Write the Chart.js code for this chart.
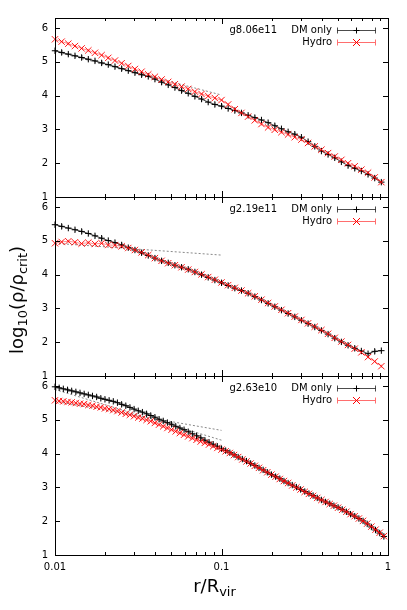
<!DOCTYPE html>
<html>
<head>
<meta charset="utf-8">
<script src="https://cdn.jsdelivr.net/npm/chart.js@4.4.1/dist/chart.umd.min.js"></script>
<style>
  html, body { margin: 0; padding: 0; background: #fff; }
  #wrap { position: relative; width: 407px; height: 610px; overflow: hidden; font-family: "DejaVu Sans", sans-serif; }
  canvas { position: absolute; left: 0; top: 0; }
  .lab { position: absolute; font-size: 18px; line-height: 18px; white-space: nowrap; color: #000; }
  .lab sub { font-size: 0.72em; line-height: 0; vertical-align: -0.3em; }
  #ylab { left: 17px; top: 300px; transform: translate(-50%, -50%) rotate(-90deg); }
  #xlab { left: 214.5px; top: 577px; transform: translateX(-50%); }
</style>
</head>
<body>
<div id="wrap">
  <canvas id="p3" width="407" height="610"></canvas>
  <canvas id="p2" width="407" height="610"></canvas>
  <canvas id="p1" width="407" height="610"></canvas>
  <div class="lab" id="ylab">log<sub>10</sub>(ρ/ρ<sub>crit</sub>)</div>
  <div class="lab" id="xlab">r/R<sub>vir</sub></div>
</div>
<script>
// radial bins (r / R_vir) for the two upper halos
const radii = [0.01, 0.01096, 0.01202, 0.01318, 0.01445, 0.01585, 0.01738, 0.01905, 0.02089, 0.02291,
  0.02512, 0.02754, 0.03020, 0.03311, 0.03631, 0.03981, 0.04365, 0.04786, 0.05248, 0.05754,
  0.06310, 0.06918, 0.07586, 0.08318, 0.09120, 0.1000, 0.1096, 0.1202, 0.1318, 0.1445,
  0.1585, 0.1738, 0.1905, 0.2089, 0.2291, 0.2512, 0.2754, 0.3020, 0.3311, 0.3631,
  0.3981, 0.4365, 0.4786, 0.5248, 0.5754, 0.6310, 0.6918, 0.7586, 0.8318, 0.9120];

// finer bins for the smallest halo
const radiiFine = [0.01, 0.01059, 0.01122, 0.01189, 0.01259, 0.01334, 0.01413, 0.01496, 0.01585, 0.01679,
  0.01778, 0.01884, 0.01995, 0.02113, 0.02239, 0.02371, 0.02512, 0.02661, 0.02818, 0.02985,
  0.03162, 0.03350, 0.03548, 0.03758, 0.03981, 0.04217, 0.04467, 0.04732, 0.05012, 0.05309,
  0.05623, 0.05957, 0.06310, 0.06683, 0.07079, 0.07499, 0.07943, 0.08414, 0.08913, 0.09441,
  0.1000, 0.1059, 0.1122, 0.1189, 0.1259, 0.1334, 0.1413, 0.1496, 0.1585, 0.1679,
  0.1778, 0.1884, 0.1995, 0.2113, 0.2239, 0.2371, 0.2512, 0.2661, 0.2818, 0.2985,
  0.3162, 0.3350, 0.3548, 0.3758, 0.3981, 0.4217, 0.4467, 0.4732, 0.5012, 0.5309,
  0.5623, 0.5957, 0.6310, 0.6683, 0.7079, 0.7499, 0.7943, 0.8414, 0.8913, 0.9441];

// log10(rho/rho_crit)
const dm806 = [5.33, 5.28, 5.23, 5.18, 5.13, 5.08, 5.03, 4.97, 4.92, 4.86,
  4.80, 4.74, 4.68, 4.62, 4.57, 4.49, 4.40, 4.32, 4.24, 4.15,
  4.07, 3.98, 3.90, 3.81, 3.74, 3.69, 3.62, 3.56, 3.49, 3.42,
  3.35, 3.28, 3.20, 3.11, 3.02, 2.93, 2.86, 2.77, 2.64, 2.50,
  2.36, 2.26, 2.16, 2.04, 1.93, 1.85, 1.77, 1.67, 1.56, 1.44];
const hydro806 = [5.67, 5.60, 5.54, 5.47, 5.40, 5.34, 5.27, 5.20, 5.12, 5.04,
  4.96, 4.88, 4.79, 4.71, 4.63, 4.56, 4.48, 4.41, 4.34, 4.27,
  4.20, 4.12, 4.05, 3.99, 3.93, 3.87, 3.74, 3.60, 3.49, 3.38,
  3.27, 3.16, 3.06, 2.99, 2.92, 2.85, 2.77, 2.70, 2.60, 2.50,
  2.40, 2.30, 2.20, 2.10, 2.00, 1.91, 1.81, 1.72, 1.58, 1.44];

const dm219 = [5.48, 5.43, 5.38, 5.33, 5.28, 5.22, 5.15, 5.08, 5.01, 4.95,
  4.88, 4.80, 4.73, 4.65, 4.57, 4.49, 4.41, 4.35, 4.28, 4.22,
  4.16, 4.08, 4.00, 3.92, 3.84, 3.76, 3.68, 3.60, 3.53, 3.45,
  3.35, 3.25, 3.15, 3.05, 2.95, 2.85, 2.75, 2.65, 2.55, 2.45,
  2.35, 2.24, 2.12, 2.01, 1.91, 1.82, 1.74, 1.66, 1.73, 1.75];
const hydro219 = [4.93, 4.97, 4.99, 4.96, 4.92, 4.95, 4.91, 4.93, 4.88, 4.87,
  4.84, 4.79, 4.73, 4.66, 4.58, 4.49, 4.41, 4.34, 4.28, 4.22,
  4.15, 4.08, 4.01, 3.93, 3.85, 3.77, 3.69, 3.61, 3.53, 3.45,
  3.36, 3.26, 3.16, 3.06, 2.96, 2.86, 2.76, 2.66, 2.56, 2.46,
  2.36, 2.25, 2.13, 2.02, 1.92, 1.81, 1.70, 1.56, 1.43, 1.29];

const dm263 = [5.98, 5.95, 5.92, 5.89, 5.86, 5.83, 5.80, 5.77, 5.74, 5.71,
  5.68, 5.64, 5.61, 5.58, 5.55, 5.51, 5.46, 5.42, 5.37, 5.32,
  5.27, 5.23, 5.18, 5.13, 5.08, 5.02, 4.97, 4.92, 4.87, 4.81,
  4.76, 4.71, 4.65, 4.59, 4.53, 4.47, 4.40, 4.34, 4.28, 4.22,
  4.15, 4.09, 4.03, 3.97, 3.90, 3.84, 3.78, 3.71, 3.65, 3.58,
  3.52, 3.45, 3.38, 3.32, 3.26, 3.19, 3.13, 3.07, 3.01, 2.94,
  2.88, 2.82, 2.76, 2.69, 2.63, 2.57, 2.52, 2.46, 2.41, 2.35,
  2.28, 2.21, 2.15, 2.08, 2.01, 1.92, 1.83, 1.74, 1.65, 1.55];
const hydro263 = [5.58, 5.56, 5.55, 5.53, 5.52, 5.50, 5.48, 5.47, 5.44, 5.42,
  5.39, 5.37, 5.34, 5.32, 5.29, 5.26, 5.22, 5.18, 5.15, 5.11,
  5.07, 5.04, 5.00, 4.96, 4.91, 4.86, 4.81, 4.76, 4.71, 4.66,
  4.61, 4.56, 4.51, 4.46, 4.41, 4.36, 4.32, 4.27, 4.22, 4.17,
  4.12, 4.07, 4.02, 3.96, 3.90, 3.83, 3.77, 3.71, 3.64, 3.58,
  3.51, 3.45, 3.38, 3.32, 3.25, 3.19, 3.13, 3.06, 3.00, 2.94,
  2.87, 2.81, 2.75, 2.69, 2.63, 2.57, 2.51, 2.46, 2.40, 2.34,
  2.28, 2.21, 2.15, 2.08, 2.01, 1.93, 1.84, 1.75, 1.66, 1.56];

// typical error bar half-height per panel [DM, Hydro]
const err806 = [0.07, 0.05];
const err219 = [0.07, 0.05];
const err263 = [0.06, 0.05];

// inner power-law fits (dotted), evaluated at fitR
const fitR = [0.01, 0.1];
const fit806 = [5.31, 4.02];
const fit219 = [4.93, 4.58];
const fit263a = [5.55, 4.69];
const fit263b = [5.90, 4.40];

const panelNames = ['g8.06e11', 'g2.19e11', 'g2.63e10'];
const seriesNames = ['DM only', 'Hydro'];

const xTickValues = [0.01, 0.1, 1];
const xTickLabels = ['0.01', '0.1', '1'];
const xMinorTicks = [0.02, 0.03, 0.04, 0.05, 0.06, 0.07, 0.08, 0.09, 0.2, 0.3, 0.4, 0.5, 0.6, 0.7, 0.8, 0.9];
const yTickValues = [1, 2, 3, 4, 5, 6];

Chart.defaults.font.family = '"DejaVu Sans", sans-serif';
Chart.defaults.font.size = 10;
Chart.defaults.color = '#000';

const DM_LINE = 'rgba(0,0,0,0.75)';
const DM_ERR = 'rgba(0,0,0,0.28)';
const HY_LINE = 'rgba(255,70,70,0.6)';
const HY_MARK = 'rgba(255,0,0,0.9)';
const HY_ERR = 'rgba(255,0,0,0.3)';

function drawPlus(ctx, x, y, r) {
    ctx.moveTo(x - r, y); ctx.lineTo(x + r, y);
    ctx.moveTo(x, y - r); ctx.lineTo(x, y + r);
}

function drawX(ctx, x, y, r) {
    ctx.moveTo(x - r, y - r); ctx.lineTo(x + r, y + r);
    ctx.moveTo(x - r, y + r); ctx.lineTo(x + r, y - r);
}

// vertical error bars under the markers
const errorBars = {
    id: 'errorBars',
    beforeDatasetsDraw(chart) {
        const ctx = chart.ctx;
        const ys = chart.scales.y;
        ctx.save();
        ctx.lineWidth = 1;
        chart.data.datasets.forEach((ds, di) => {
            if (!ds.errBar) return;
            const meta = chart.getDatasetMeta(di);
            ctx.strokeStyle = ds.errColor;
            ctx.beginPath();
            meta.data.forEach((pt, i) => {
                const v = ds.data[i].y;
                const px = Math.round(pt.x) + 0.5;
                ctx.moveTo(px, ys.getPixelForValue(v + ds.errBar));
                ctx.lineTo(px, ys.getPixelForValue(v - ds.errBar));
            });
            ctx.stroke();
        });
        ctx.restore();
    }
};

// frame, inward ticks (gnuplot style) and the errorbar-style key
const panelDeco = {
    id: 'panelDeco',
    afterDraw(chart, args, opts) {
        const ctx = chart.ctx;
        const { left, right, top, bottom } = chart.chartArea;
        const xs = chart.scales.x, ys = chart.scales.y;
        ctx.save();
        ctx.strokeStyle = '#000';
        ctx.lineWidth = 1;
        ctx.beginPath();
        xTickValues.forEach(v => {
            const px = Math.round(xs.getPixelForValue(v)) + 0.5;
            ctx.moveTo(px, bottom); ctx.lineTo(px, bottom - 6);
            ctx.moveTo(px, top); ctx.lineTo(px, top + 6);
        });
        xMinorTicks.forEach(v => {
            const px = Math.round(xs.getPixelForValue(v)) + 0.5;
            ctx.moveTo(px, bottom); ctx.lineTo(px, bottom - 3);
            ctx.moveTo(px, top); ctx.lineTo(px, top + 3);
        });
        yTickValues.forEach(v => {
            const py = Math.round(ys.getPixelForValue(v)) + 0.5;
            ctx.moveTo(left, py); ctx.lineTo(left + 5, py);
            ctx.moveTo(right, py); ctx.lineTo(right - 5, py);
        });
        ctx.stroke();
        ctx.strokeRect(Math.round(left) + 0.5, Math.round(top) + 0.5,
            Math.round(right - left), Math.round(bottom - top));

        // key
        ctx.font = '10px "DejaVu Sans", sans-serif';
        ctx.textAlign = 'right';
        ctx.textBaseline = 'middle';
        ctx.fillStyle = '#000';
        const y1 = top + 12.5, y2 = top + 24.5;
        ctx.fillText(opts.name, right - 111, y1);
        ctx.fillText(seriesNames[0], right - 56, y1);
        ctx.fillText(seriesNames[1], right - 56, y2);
        const x0 = right - 50.5, x1 = right - 12.5, xm = (x0 + x1) / 2;
        [[y1, 'rgba(0,0,0,0.7)', '#000'], [y2, 'rgb(255,110,110)', 'rgb(255,0,0)']].forEach(([yy, lc, mc], k) => {
            ctx.strokeStyle = lc;
            ctx.beginPath();
            ctx.moveTo(x0, yy); ctx.lineTo(x1, yy);
            ctx.moveTo(x0, yy - 3); ctx.lineTo(x0, yy + 3);
            ctx.moveTo(x1, yy - 3); ctx.lineTo(x1, yy + 3);
            ctx.stroke();
            ctx.strokeStyle = mc;
            ctx.beginPath();
            if (k === 0) drawPlus(ctx, xm, yy, 3); else drawX(ctx, xm, yy, 3.5);
            ctx.stroke();
        });
        ctx.restore();
    }
};

function points(r, vals) {
    return r.map((x, i) => ({ x, y: vals[i] }));
}

function makePanel(id, name, r, dm, hydro, err, fits, padTop, padBottom, showX) {
    const datasets = [
        {
            data: points(r, hydro), order: 1, clip: false,
            errBar: err[1], errColor: HY_ERR,
            borderColor: HY_LINE, borderWidth: 1,
            pointStyle: 'crossRot', pointRadius: 4.5, pointBorderWidth: 1,
            pointBorderColor: HY_MARK, pointBackgroundColor: HY_MARK
        },
        {
            data: points(r, dm), order: 2, clip: false,
            errBar: err[0], errColor: DM_ERR,
            borderColor: DM_LINE, borderWidth: 1,
            pointStyle: 'cross', pointRadius: 3.2, pointBorderWidth: 1,
            pointBorderColor: '#000', pointBackgroundColor: '#000'
        }
    ];
    fits.forEach(f => datasets.push({
        data: points(fitR, f), order: 3,
        borderColor: '#888', borderWidth: 1, borderDash: [2, 2],
        pointRadius: 0
    }));

    return new Chart(document.getElementById(id), {
        type: 'line',
        data: { datasets },
        options: {
            responsive: false,
            animation: false,
            devicePixelRatio: 1,
            events: [],
            layout: { padding: { left: 15, right: 19, top: padTop, bottom: padBottom } },
            scales: {
                x: {
                    type: 'logarithmic', min: 0.01, max: 1, display: showX,
                    grid: { display: false, drawTicks: false },
                    border: { display: false },
                    ticks: {
                        autoSkip: false, maxRotation: 0, padding: 6,
                        callback: (v) => {
                            const i = xTickValues.findIndex(t => Math.abs(Math.log10(v / t)) < 1e-6);
                            return i >= 0 ? xTickLabels[i] : '';
                        }
                    },
                    afterFit: (s) => { s.height = showX ? 25 : 0; }
                },
                y: {
                    min: 1, max: 6.3,
                    grid: { display: false, drawTicks: false },
                    border: { display: false },
                    ticks: { stepSize: 1, includeBounds: false, padding: 7 },
                    afterFit: (s) => { s.width = 40; }
                }
            },
            plugins: {
                legend: { display: false },
                tooltip: { enabled: false },
                panelDeco: { name }
            }
        },
        plugins: [errorBars, panelDeco]
    });
}

makePanel('p1', panelNames[0], radii, dm806, hydro806, err806, [fit806], 18, 413, false);
makePanel('p2', panelNames[1], radii, dm219, hydro219, err219, [fit219], 197, 234, false);
makePanel('p3', panelNames[2], radiiFine, dm263, hydro263, err263, [fit263a, fit263b], 376, 30, true);
</script>
</body>
</html>
